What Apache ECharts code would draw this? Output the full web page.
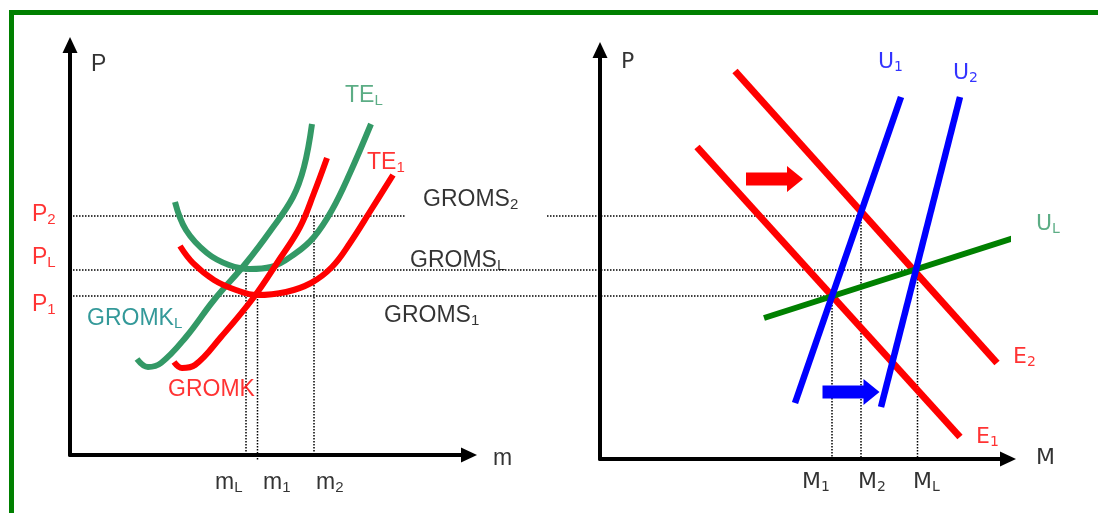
<!DOCTYPE html>
<html>
<head>
<meta charset="UTF-8">
<title>GROMK / GROMS</title>
<script src="https://cdn.jsdelivr.net/npm/echarts@6/dist/echarts.min.js"></script>
<style>
html, body { margin: 0; padding: 0; background: #fff; }
#main { width: 1098px; height: 513px; }
</style>
</head>
<body>
<div id="main"></div>
<script type="text/javascript">
// ---- left panel (m, P), units counted from the axis origin ----
var teL    = [[105,253],[116,225],[137,202],[159,190],[180,186],[201,188],[226,202],[244,218],[262,245],[280,282],[301,331]];
var gromkL = [[67,96],[78,88],[91,92],[116,118],[144,155],[176,192],[201,225],[223,258],[234,288],[242,331]];
var gromk  = [[104,93],[112,87],[125,90],[151,118],[184,158],[209,195],[230,228],[244,262],[257,297]];
var te1    = [[110,209],[123,192],[144,175],[166,165],[187,160],[216,163],[241,172],[262,188],[280,212],[301,245],[323,280]];

// price levels P2, PL, P1 (shared by both panels)
var pLevels = [239, 185, 159];
// horizontal dotted guides: [fromX, toX, level], x in left-panel units
var hGuides = [[3, 336, 0], [477, 791, 0], [3, 847, 1], [3, 762, 2]];
// vertical dotted guides, left panel: mL, m1, m2 -> [x, top, bottom]
var mGuides = [[176, 185, 0], [187.5, 159, -5], [244, 239, 0]];
// vertical dotted guides, right panel: M1, M2, ML
var MGuides = [[232, 159, -4], [261, 239, -4], [317.5, 185, -4]];

// ---- right panel (M, P) straight lines ----
var lineE2 = [[135,384],[397,92]];
var lineE1 = [[97,308],[360,18]];
var lineU1 = [[195,52],[301,358]];
var lineU2 = [[281,48],[360,358]];
var lineUL = [[164,137],[420,219]];
var shiftArrows = [[174.5, 276, '#ff0000'], [251, 63, '#0000ff']];

// text labels: [x, y, text, colour]
var leftLabels = [
  [21, 390, '{m|P}', '#000'],
  [275, 359, '{m|TE}{s|L}', '#339966'],
  [297, 292, '{m|TE}{s|1}', '#ff0000'],
  [-38, 240, '{m|P}{s|2}', '#ff0000'],
  [-38, 197, '{m|P}{s|L}', '#ff0000'],
  [-38, 150, '{m|P}{s|1}', '#ff0000'],
  [17, 136, '{m|GROMK}{s|L}', '#008080'],
  [98, 65, '{m|GROMK}', '#ff0000'],
  [353, 255, '{m|GROMS}{s|2}', '#000'],
  [340, 194, '{m|GROMS}{s|L}', '#000'],
  [314, 139, '{m|GROMS}{s|1}', '#000'],
  [423, -4, '{m|m}', '#000'],
  [145, -28, '{m|m}{s|L}', '#000'],
  [193, -28, '{m|m}{s|1}', '#000'],
  [246, -28, '{m|m}{s|2}', '#000']
];
var rightLabels = [
  [21, 393, '{m|P}', '#000'],
  [278, 393, '{m|U}{s|1}', '#0000ff'],
  [353, 382, '{m|U}{s|2}', '#0000ff'],
  [436, 231, '{m|U}{s|L}', '#339966'],
  [413, 98, '{m|E}{s|2}', '#ff0000'],
  [376, 18, '{m|E}{s|1}', '#ff0000'],
  [436, -3, '{m|M}', '#000'],
  [202, -27, '{m|M}{s|1}', '#000'],
  [258, -27, '{m|M}{s|2}', '#000'],
  [313, -27, '{m|M}{s|L}', '#000']
];

var dotted = { color: '#000', width: 1.5, type: [1.5, 1.5] };
var hidden = { axisLine: { show: false }, axisTick: { show: false }, axisLabel: { show: false }, splitLine: { show: false } };

function axisPair(grid, xmax, ymin, ymax) {
  var line = {
    show: true, onZero: false, symbol: ['none', 'triangle'], symbolSize: [15, 16],
    lineStyle: { color: '#000', width: 4 }
  };
  return {
    x: { type: 'value', gridIndex: grid, min: 0, max: xmax, axisLine: line,
         axisTick: { show: false }, axisLabel: { show: false }, splitLine: { show: false } },
    y: { type: 'value', gridIndex: grid, min: ymin, max: ymax, axisLine: line,
         axisTick: { show: false }, axisLabel: { show: false }, splitLine: { show: false } }
  };
}

function curve(data, color, width, idx, smooth) {
  return { type: 'line', xAxisIndex: idx, yAxisIndex: idx, data: data, smooth: smooth,
    showSymbol: false, silent: true, clip: false,
    lineStyle: { color: color, width: width, cap: 'butt' } };
}

function guide(data, idx) {
  return { type: 'line', xAxisIndex: idx, yAxisIndex: idx, data: data, showSymbol: false,
    silent: true, clip: false, z: 1, lineStyle: dotted };
}

function labels(items, idx, font, mainSize, subSize) {
  return {
    type: 'scatter', xAxisIndex: idx, yAxisIndex: idx, symbolSize: 0, clip: false, silent: true,
    itemStyle: { color: 'transparent' },
    data: items.map(function (d) {
      return { value: [d[0], d[1]], name: d[2], label: { color: d[3] } };
    }),
    label: {
      show: true, position: 'inside', align: 'left', verticalAlign: 'middle', formatter: '{b}',
      rich: {
        m: { fontFamily: font, fontSize: mainSize, lineHeight: 24, verticalAlign: 'middle' },
        s: { fontFamily: font, fontSize: subSize, lineHeight: 8, verticalAlign: 'bottom' }
      }
    }
  };
}

var a0 = axisPair(0, 399, 0, 410);
var a1 = axisPair(1, 408, -4, 405);

var series = [];
// grid 3 shares the left panel's units but is wide enough to reach the right panel
hGuides.forEach(function (g) {
  series.push(guide([[g[0], pLevels[g[2]]], [g[1], pLevels[g[2]]]], 3));
});
mGuides.forEach(function (g) { series.push(guide([[g[0], g[1]], [g[0], g[2]]], 0)); });
MGuides.forEach(function (g) { series.push(guide([[g[0], g[1]], [g[0], g[2]]], 1)); });

series.push(curve(teL, '#339966', 6, 0, 0.4));
series.push(curve(gromkL, '#339966', 6, 0, 0.4));
series.push(curve(te1, '#ff0000', 6, 0, 0.4));
series.push(curve(gromk, '#ff0000', 6, 0, 0.4));

series.push(curve(lineE2, '#ff0000', 7, 1, false));
series.push(curve(lineE1, '#ff0000', 7, 1, false));
series.push(curve(lineUL, '#008000', 6, 1, false));
series.push(curve(lineU1, '#0000ff', 6.5, 1, false));
series.push(curve(lineU2, '#0000ff', 6.5, 1, false));

series.push({
  type: 'scatter', xAxisIndex: 1, yAxisIndex: 1, silent: true,
  symbol: 'path://M0,6.5L41,6.5L41,0L57,13L41,26L41,19.5L0,19.5Z',
  symbolSize: [57, 26],
  data: shiftArrows.map(function (d) {
    return { value: [d[0], d[1]], itemStyle: { color: d[2], opacity: 1 } };
  })
});

series.push(labels(leftLabels, 0, 'Liberation Sans', 23, 15));
series.push(labels(rightLabels, 1, 'DejaVu Sans', 22, 14));

var myChart = echarts.init(document.getElementById('main'));
var option = {
  animation: false,
  backgroundColor: '#fff',
  grid: [
    { left: 70, top: 45, width: 399, height: 410 },
    { left: 600, top: 50, width: 408, height: 409 },
    // green frame: only its top and left edges fall inside the picture
    { left: 11.5, top: 12.5, width: 1200, height: 600, outerBoundsMode: 'none', show: true,
      borderColor: '#008000', borderWidth: 5, backgroundColor: 'transparent' },
    { left: 70, top: 45, width: 960, height: 410, outerBoundsMode: 'none' }
  ],
  xAxis: [a0.x, a1.x,
    Object.assign({ type: 'value', gridIndex: 2 }, hidden),
    Object.assign({ type: 'value', gridIndex: 3, min: 0, max: 960 }, hidden)],
  yAxis: [a0.y, a1.y,
    Object.assign({ type: 'value', gridIndex: 2 }, hidden),
    Object.assign({ type: 'value', gridIndex: 3, min: 0, max: 410 }, hidden)],
  series: series
};
myChart.setOption(option);
</script>
</body>
</html>
